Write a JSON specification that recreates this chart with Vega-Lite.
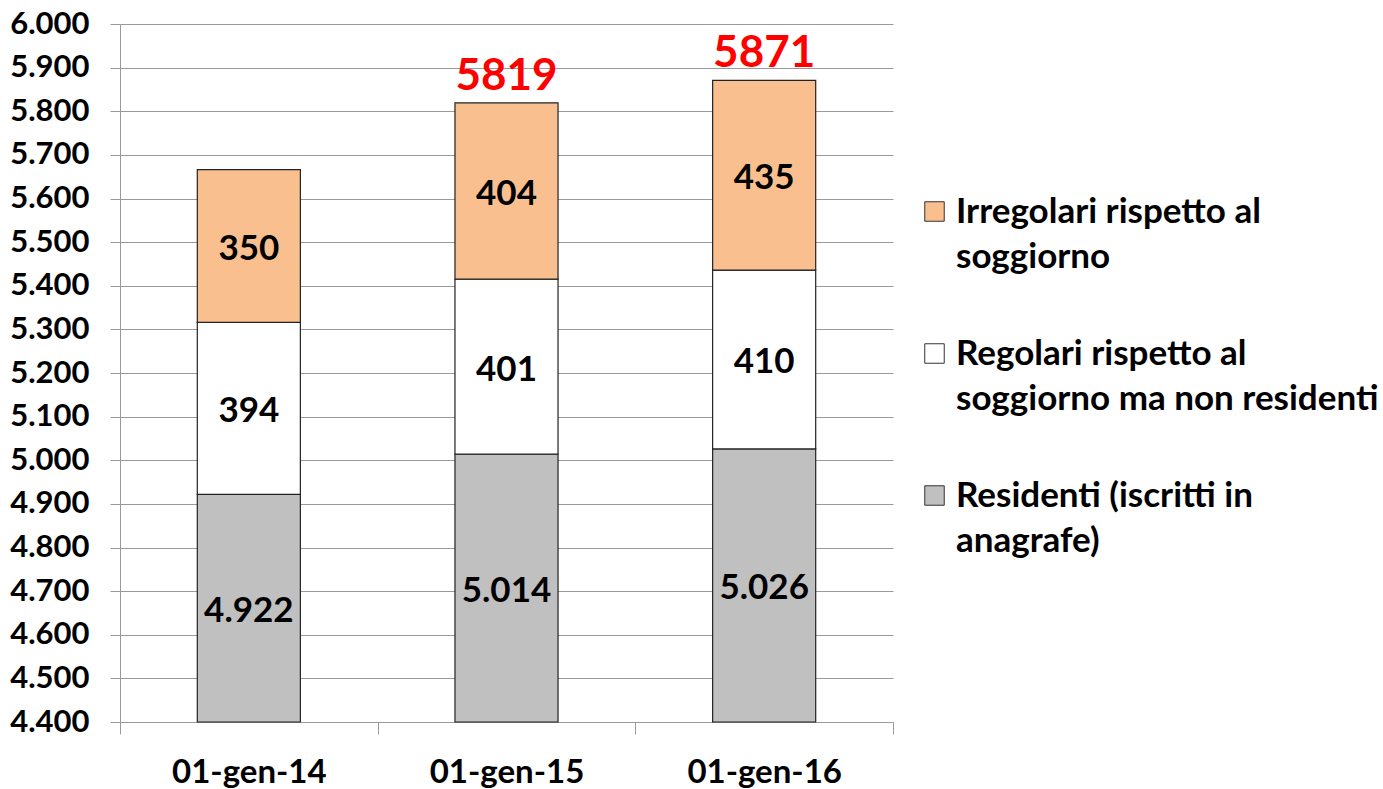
{
  "$schema": "https://vega.github.io/schema/vega-lite/v6.json",
  "width": 773,
  "height": 698,
  "autosize": {"type": "none"},
  "padding": {"left": 120, "top": 24, "right": 490, "bottom": 67},
  "background": "white",
  "config": {
    "view": {"stroke": null},
    "font": "Lato"
  },
  "layer": [
    {
      "data": {
        "values": [
          {"periodo": "01-gen-14", "serie": "Residenti (iscritti in anagrafe)", "valore": 4922},
          {"periodo": "01-gen-14", "serie": "Regolari rispetto al soggiorno ma non residenti", "valore": 394},
          {"periodo": "01-gen-14", "serie": "Irregolari rispetto al soggiorno", "valore": 350},
          {"periodo": "01-gen-15", "serie": "Residenti (iscritti in anagrafe)", "valore": 5014},
          {"periodo": "01-gen-15", "serie": "Regolari rispetto al soggiorno ma non residenti", "valore": 401},
          {"periodo": "01-gen-15", "serie": "Irregolari rispetto al soggiorno", "valore": 404},
          {"periodo": "01-gen-16", "serie": "Residenti (iscritti in anagrafe)", "valore": 5026},
          {"periodo": "01-gen-16", "serie": "Regolari rispetto al soggiorno ma non residenti", "valore": 410},
          {"periodo": "01-gen-16", "serie": "Irregolari rispetto al soggiorno", "valore": 435}
        ]
      },
      "transform": [
        {"calculate": "indexof(['Residenti (iscritti in anagrafe)', 'Regolari rispetto al soggiorno ma non residenti', 'Irregolari rispetto al soggiorno'], datum.serie)", "as": "ord"},
        {"stack": "valore", "groupby": ["periodo"], "sort": [{"field": "ord", "order": "ascending"}], "as": ["v0", "v1"]},
        {"calculate": "max(datum.v0, 4400)", "as": "v0c"},
        {"calculate": "(datum.v0c + datum.v1) / 2", "as": "mid"},
        {"calculate": "replace(format(datum.valore, ','), ',', '.')", "as": "lab"}
      ],
      "layer": [
        {
          "mark": {"type": "bar", "width": {"band": 0.4}, "stroke": "#222222", "strokeWidth": 1.2},
          "encoding": {
            "x": {
              "field": "periodo", "type": "nominal",
              "scale": {"paddingInner": 0, "paddingOuter": 0},
              "axis": {
                "title": null, "labelAngle": 0, "tickBand": "extent", "tickSize": 12,
                "tickColor": "#9a9a9a", "domainColor": "#9a9a9a", "grid": false,
                "labelFontSize": 33, "labelFontWeight": "bold", "labelColor": "black",
                "labelPadding": 22
              }
            },
            "y": {
              "field": "v0c", "type": "quantitative",
              "scale": {"domain": [4400, 6000], "nice": false, "zero": false},
              "axis": {
                "title": null,
                "values": [4400, 4500, 4600, 4700, 4800, 4900, 5000, 5100, 5200, 5300, 5400, 5500, 5600, 5700, 5800, 5900, 6000],
                "labelExpr": "replace(format(datum.value, ','), ',', '.')",
                "grid": true, "gridColor": "#9a9a9a", "gridWidth": 1,
                "tickSize": 10, "tickColor": "#9a9a9a", "domainColor": "#9a9a9a",
                "labelFontSize": 31, "labelFontWeight": "bold", "labelColor": "black",
                "labelPadding": 21
              }
            },
            "y2": {"field": "v1"},
            "color": {
              "field": "serie", "type": "nominal",
              "scale": {
                "domain": ["Irregolari rispetto al soggiorno", "Regolari rispetto al soggiorno ma non residenti", "Residenti (iscritti in anagrafe)"],
                "range": ["#F9BF8F", "#FFFFFF", "#C0C0C0"]
              },
              "legend": {
                "title": null, "orient": "none", "legendX": 797, "legendY": 170,
                "symbolType": "square", "symbolSize": 380,
                "symbolStrokeColor": "#333333", "symbolStrokeWidth": 1,
                "labelFontSize": 35, "labelFontWeight": "bold", "labelColor": "black",
                "labelLimit": 600, "rowPadding": 61, "labelOffset": 4,
                "labelExpr": "datum.label == 'Irregolari rispetto al soggiorno' ? ['Irregolari rispetto al', 'soggiorno'] : datum.label == 'Regolari rispetto al soggiorno ma non residenti' ? ['Regolari rispetto al', 'soggiorno ma non residenti'] : ['Residenti (iscritti in', 'anagrafe)']",
                "encode": {"labels": {"update": {"lineHeight": {"value": 45}}}}
              }
            }
          }
        },
        {
          "mark": {"type": "text", "fontSize": 35, "fontWeight": "bold", "color": "black", "baseline": "middle", "dy": 3},
          "encoding": {
            "x": {"field": "periodo", "type": "nominal"},
            "y": {"field": "mid", "type": "quantitative"},
            "text": {"field": "lab"}
          }
        }
      ]
    },
    {
      "data": {
        "values": [
          {"periodo": "01-gen-15", "totale": 5819},
          {"periodo": "01-gen-16", "totale": 5871}
        ]
      },
      "mark": {"type": "text", "fontSize": 44, "fontWeight": "bold", "color": "#FF0000", "baseline": "alphabetic", "dy": -13},
      "encoding": {
        "x": {"field": "periodo", "type": "nominal"},
        "y": {"field": "totale", "type": "quantitative"},
        "text": {"field": "totale", "format": "d"}
      }
    }
  ]
}
